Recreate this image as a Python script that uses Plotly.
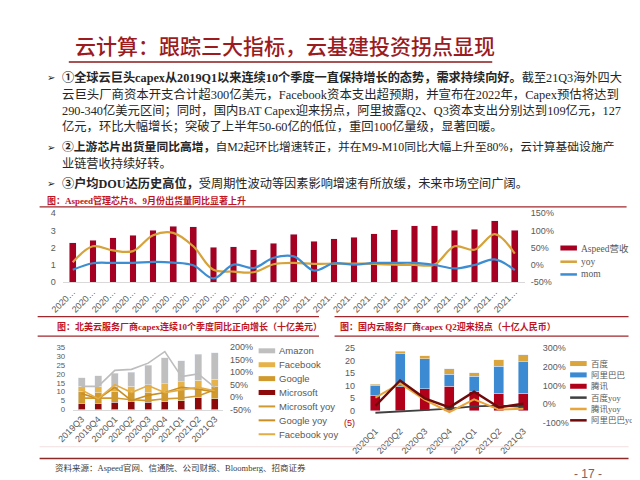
import plotly.graph_objects as go

# ---------------- data ----------------
months = ["2020-01", "2020-02", "2020-03", "2020-04", "2020-05", "2020-06", "2020-07", "2020-08",
          "2020-09", "2020-10", "2020-11", "2020-12", "2021-01", "2021-02", "2021-03", "2021-04",
          "2021-05", "2021-06", "2021-07", "2021-08", "2021-09", "2021-10", "2021-11"]
month_labels = ["2020…", "2020…", "2020…", "2020…", "2020…", "2020…", "2020…", "2020…",
                "2020…", "2020…", "2020…", "2020…", "2021…", "2021…", "2021…", "2021…",
                "2021…", "2021…", "2021…", "2021…", "2021…", "2021…", "2021…"]
aspeed_rev = [2.30, 2.42, 2.57, 2.72, 3.00, 3.25, 3.21, 2.02, 2.06, 1.87, 2.26, 2.79,
              2.36, 2.51, 2.60, 2.81, 3.04, 3.26, 3.28, 3.02, 3.06, 3.55, 3.02]
aspeed_yoy = [8, 54, 42, 40, 86, 93, 54, -14, -19, -21, 2, 6,
              3, 4, 4, 3, 1, 0, 1, 54, 44, 89, 33]
aspeed_mom = [-14, 5, 6, 6, 9, 7, -1, -39, 1, -9, 21, 25,
              -16, 5, 1, 6, 6, 6, 0, -10, 0, 16, -15]
top_left_ticks = [0, 1, 2, 3, 4]
top_right_ticks = [-50, 0, 50, 100, 150]

us_quarters = ["2019Q3", "2019Q4", "2020Q1", "2020Q2", "2020Q3", "2020Q4", "2021Q1", "2021Q2", "2021Q3"]
microsoft = [3.5, 3.5, 4.0, 4.8, 4.0, 4.5, 5.0, 6.5, 6.0]
google = [6.5, 6.0, 6.0, 5.5, 5.5, 5.5, 6.0, 5.5, 6.8]
facebook = [3.0, 3.5, 3.0, 2.7, 4.5, 4.5, 4.5, 4.5, 4.2]
amazon = [5.0, 6.0, 7.5, 8.0, 11.0, 14.5, 12.0, 14.5, 15.0]
amazon_yoy = [43, 43, 107, 111, 136, 182, 82, 93, 39]
microsoft_yoy = [-4, -4, -4, -11, -14, -7, -4, 4, 29]
google_yoy = [14, -7, 39, -14, 7, 18, 39, 32, 21]
facebook_yoy = [29, -7, 50, 18, 46, 18, 29, 39, 25]
us_left_ticks = [0, 5, 10, 15, 20, 25, 30, 35]
us_right_ticks = [-50, 0, 50, 100, 150, 200]

cn_quarters = ["2020Q1", "2020Q2", "2020Q3", "2020Q4", "2021Q1", "2021Q2", "2021Q3"]
tencent = [6.0, 9.5, 8.7, 9.7, 7.8, 7.0, 7.0]
alibaba = [4.0, 13.3, 12.0, 4.8, 6.0, 10.8, 12.6]
baidu = [0.5, 1.0, 1.3, 2.2, 1.4, 2.5, 2.7]
baidu_yoy = [-45, -39, -31, -23, -11, -7, -13]
tencent_yoy = [36, 111, 24, -41, 27, -28, -23]
alibaba_yoy = [-8, 127, 32, -16, 67, -16, 3]
cn_left_ticks = [-5, 0, 5, 10, 15, 20, 25]
cn_left_ticktext = ["<span style='color:#C00000'>(5)</span>", "0", "5", "10", "15", "20", "25"]
cn_right_ticks = [-100, 0, 100, 200, 300]

# ---------------- styles ----------------
W, H = 640, 480
DARKRED = "#A50021"
TITLE_RED = "#9B1B1F"
CAP_RED = "#C0141E"
GOLD = "#D6A23A"
BLUE = "#3D8DD3"
AXIS_FONT = dict(family="Liberation Sans, Arial, sans-serif", size=9, color="#595959")
SMALL_AXIS_FONT = dict(family="Liberation Sans, Arial, sans-serif", size=7.8, color="#595959")
BODY_FONT = "Liberation Serif, Noto Sans CJK SC, serif"
CJK = "Noto Sans CJK SC, sans-serif"
SANS = "Liberation Sans, Arial, sans-serif"


def px(x):
    return x / W


def py(y):
    return 1 - y / H


def pct(vals):
    return [f"{v}%" for v in vals]


fig = go.Figure()

# ---------- top chart ----------
fig.add_trace(go.Bar(x=months, y=aspeed_rev, marker_color=DARKRED, width=0.33,
                     xaxis="x", yaxis="y", showlegend=False))
fig.add_trace(go.Scatter(x=months, y=aspeed_yoy, mode="lines", line=dict(color=GOLD, width=2.2, shape="spline"),
                         xaxis="x", yaxis="y2", showlegend=False))
fig.add_trace(go.Scatter(x=months, y=aspeed_mom, mode="lines", line=dict(color=BLUE, width=2.2, shape="spline"),
                         xaxis="x", yaxis="y2", showlegend=False))

# ---------- bottom-left chart ----------
us_bar_specs = [(microsoft, "#8C0A0A"), (google, "#D19A2E"), (facebook, "#E6B24A"), (amazon, "#BFBFBF")]
for vals, col in us_bar_specs:
    fig.add_trace(go.Bar(x=us_quarters, y=vals, marker_color=col, width=0.42,
                         xaxis="x2", yaxis="y3", showlegend=False))
us_line_specs = [(amazon_yoy, "#BDBDBD"), (microsoft_yoy, "#D09A30"), (google_yoy, "#C98F22"), (facebook_yoy, "#E3AC45")]
for vals, col in us_line_specs:
    fig.add_trace(go.Scatter(x=us_quarters, y=vals, mode="lines", line=dict(color=col, width=1.6),
                             xaxis="x2", yaxis="y4", showlegend=False))

# ---------- bottom-right chart ----------
cn_bar_specs = [(tencent, "#B0001A"), (alibaba, "#3B8AD2"), (baidu, "#D9A53C")]
for vals, col in cn_bar_specs:
    fig.add_trace(go.Bar(x=cn_quarters, y=vals, marker_color=col, width=0.4,
                         xaxis="x3", yaxis="y5", showlegend=False))
cn_line_specs = [(baidu_yoy, "#404040", 1.8), (tencent_yoy, "#E9A53A", 2.0), (alibaba_yoy, "#6E0A0A", 2.4)]
for vals, col, w in cn_line_specs:
    fig.add_trace(go.Scatter(x=cn_quarters, y=vals, mode="lines", line=dict(color=col, width=w),
                             xaxis="x3", yaxis="y6", showlegend=False))

axis_common = dict(showgrid=False, zeroline=False, ticks="", fixedrange=True)

fig.update_layout(
    width=W, height=H, margin=dict(l=0, r=0, t=0, b=0),
    paper_bgcolor="white", plot_bgcolor="rgba(0,0,0,0)",
    barmode="stack", showlegend=False,
    xaxis=dict(domain=[px(38.7), px(513.5)], anchor="y", type="category", tickangle=-45,
               tickvals=months, ticktext=month_labels, showline=True, linecolor="#D9D9D9",
               tickfont=AXIS_FONT, **axis_common),
    yaxis=dict(domain=[py(275), py(204)], range=[0, 4.02], tickvals=top_left_ticks, anchor="x",
               ticklabelstandoff=6, tickfont=AXIS_FONT, **axis_common),
    yaxis2=dict(overlaying="y", side="right", range=[-50, 151], tickvals=top_right_ticks,
                ticktext=pct(top_right_ticks), anchor="x", ticklabelstandoff=5, tickfont=AXIS_FONT, **axis_common),
    xaxis2=dict(domain=[px(49.5), px(203.5)], anchor="y3", type="category", tickangle=-45,
                showline=True, linecolor="#D9D9D9", tickfont=AXIS_FONT, **axis_common),
    yaxis3=dict(domain=[py(405), py(341)], range=[0, 35.2], tickvals=us_left_ticks, anchor="x2",
                ticklabelstandoff=7, tickfont=SMALL_AXIS_FONT, **axis_common),
    yaxis4=dict(overlaying="y3", side="right", range=[-50, 201], tickvals=us_right_ticks,
                ticktext=pct(us_right_ticks), anchor="x2", ticklabelstandoff=6, tickfont=AXIS_FONT,
                **axis_common),
    xaxis3=dict(domain=[px(347.3), px(524.7)], anchor="y5", type="category", tickangle=-45,
                showline=False, tickfont=AXIS_FONT, **axis_common),
    yaxis5=dict(domain=[py(419), py(342)], range=[-5.1, 25.1], tickvals=cn_left_ticks,
                ticktext=cn_left_ticktext, anchor="x3", ticklabelstandoff=7, tickfont=AXIS_FONT, **axis_common),
    yaxis6=dict(overlaying="y5", side="right", range=[-101, 301], tickvals=cn_right_ticks,
                ticktext=pct(cn_right_ticks), anchor="x3", ticklabelstandoff=6, tickfont=AXIS_FONT, **axis_common),
)

shapes = []
annotations = []


def hline(x0, x1, y, color, width):
    shapes.append(dict(type="line", xref="paper", yref="paper", x0=px(x0), x1=px(x1), y0=py(y), y1=py(y),
                       line=dict(color=color, width=width)))


def text(x, y, s, size, color, family=BODY_FONT, anchor="left", weight="normal"):
    annotations.append(dict(x=px(x), y=py(y), xref="paper", yref="paper", text=s, showarrow=False,
                            xanchor=anchor, yanchor="middle", borderpad=0,
                            font=dict(size=size, color=color, family=family, weight=weight)))


# title
text(50, 33, "云计算：跟踪三大指标，云基建投资拐点显现", 21, TITLE_RED, family=CJK, weight=500)
hline(45, 480, 50, "#8B1A1A", 1.6)

# bullets
body_lines = [
    (66, True, 12.2, "<b>①全球云巨头capex从2019Q1以来连续10个季度一直保持增长的态势，需求持续向好。</b>截至21Q3海外四大"),
    (83, False, 12.4, "云巨头厂商资本开支合计超300亿美元，Facebook资本支出超预期，并宣布在2022年，Capex预估将达到"),
    (99.5, False, 12.3, "290-340亿美元区间；同时，国内BAT Capex迎来拐点，阿里披露Q2、Q3资本支出分别达到109亿元，127"),
    (116, False, 12.3, "亿元，环比大幅增长；突破了上半年50-60亿的低位，重回100亿量级，显著回暖。"),
    (137, True, 11.8, "<b>②上游芯片出货量同比高增，</b>自M2起环比增速转正，并在M9-M10同比大幅上升至80%，云计算基础设施产"),
    (153.5, False, 12.2, "业链营收持续好转。"),
    (174, True, 12.2, "<b>③户均DOU达历史高位，</b>受周期性波动等因素影响增速有所放缓，未来市场空间广阔。"),
]
for y, bullet, size, s in body_lines:
    if bullet:
        text(22, y, "➢", 10, "#222222", family="DejaVu Sans")
    text(37, y, s, size, "#262626")

# top chart caption
text(22, 191, "<b>图：Aspeed管理芯片8、9月份出货量同比显著上升</b>", 9, CAP_RED)
hline(15, 618, 198, "#A0282D", 1.2)


# legends
def legend_item(x, y, label, color, thick, size=9.5, family=BODY_FONT):
    shapes.append(dict(type="line", xref="paper", yref="paper", x0=px(x), x1=px(x + 17), y0=py(y), y1=py(y),
                       line=dict(color=color, width=thick)))
    text(x + 20, y, label, size, "#595959", family=family)


legend_item(550, 240, "Aspeed营收", DARKRED, 5)
legend_item(550, 254, "yoy", GOLD, 2.5)
legend_item(550, 267, "mom", BLUE, 2.5)

# bottom captions
hline(13, 302, 310, "#A0282D", 1.2)
hline(318, 620, 310, "#A0282D", 1.2)
text(32, 320, "<b>图：北美云服务厂商capex连续10个季度同比正向增长（十亿美元）</b>", 9, CAP_RED)
text(323, 320, "<b>图：国内云服务厂商capex Q2迎来拐点（十亿人民币）</b>", 9, CAP_RED)
hline(13, 302, 330, "#A0282D", 1.2)
hline(318, 620, 330, "#A0282D", 1.2)

us_legend = [("Amazon", "#BFBFBF", 5), ("Facebook", "#E6B24A", 5), ("Google", "#D19A2E", 5),
             ("Microsoft", "#8C0A0A", 5), ("Microsoft yoy", "#D09A30", 2), ("Google yoy", "#C98F22", 2),
             ("Facebook yoy", "#E3AC45", 2)]
for i, (lab, col, th) in enumerate(us_legend):
    legend_item(240, 345 + i * 14.2, lab, col, th, size=9.5, family=SANS)

cn_legend = [("百度", "#D9A53C", 5), ("阿里巴巴", "#3B8AD2", 5), ("腾讯", "#B0001A", 5),
             ("百度yoy", "#404040", 2.5), ("腾讯yoy", "#E9A53A", 2.5), ("阿里巴巴yoy", "#6E0A0A", 2.5)]
for i, (lab, col, th) in enumerate(cn_legend):
    legend_item(560, 358 + i * 11.6, lab, col, th, size=8.5, family=BODY_FONT)

# footer
hline(15, 620, 443, "#F2DEDE", 1)
hline(15, 620, 455, "#8C2A2A", 1.4)
text(30, 465, "资料来源：Aspeed官网、信通院、公司财报、Bloomberg、招商证券", 8.5, "#404040")
text(578, 471, "- 17 -", 12, "#7F6060", family=SANS, anchor="center")

fig.update_layout(shapes=shapes, annotations=annotations)
fig.write_html("out.html")
